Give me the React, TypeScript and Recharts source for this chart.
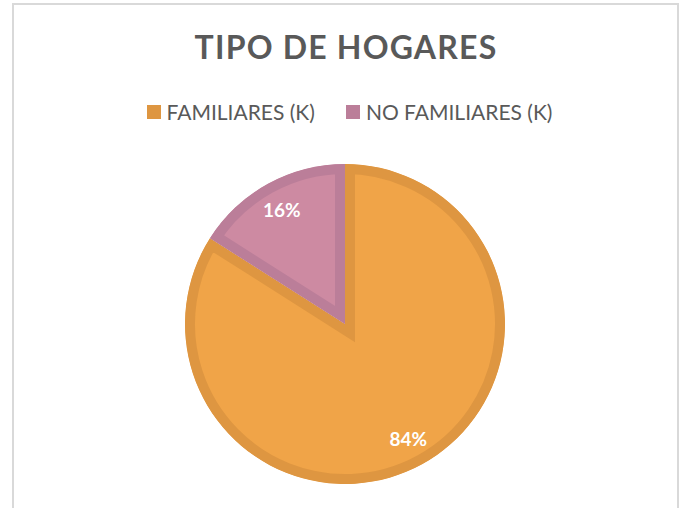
import React from 'react';
import { PieChart, Pie, Cell, Legend, Sector } from 'recharts';

const categories = ['FAMILIARES (K)', 'NO FAMILIARES (K)'];
const values = [84, 16];
const fillColors = ['#F0A448', '#CD8AA2'];
const borderColors = ['#DE9641', '#BB7E99'];
const title = 'TIPO DE HOGARES';

const data = categories.map((name, i) => ({ name, value: values[i] }));

const RADIAN = Math.PI / 180;

const renderLabel = (props: any) => {
  const { cx, cy, midAngle, outerRadius, percent } = props;
  const r = outerRadius * 0.82;
  const x = cx + r * Math.cos(-midAngle * RADIAN);
  const y = cy + r * Math.sin(-midAngle * RADIAN);
  return (
    <text x={x} y={y} fill="#FFFFFF" textAnchor="middle" dominantBaseline="central"
      fontFamily="Lato" fontWeight={700} fontSize={19}>
      {`${Math.round(percent * 100)}%`}
    </text>
  );
};

const renderShape = (props: any) => {
  const idx = categories.indexOf(props.name ?? props.payload?.name);
  const id = `clip-sector-${idx}`;
  const { stroke, strokeWidth, ...rest } = props;
  return (
    <g>
      <defs>
        <clipPath id={id}>
          <Sector {...rest} />
        </clipPath>
      </defs>
      <Sector {...rest} fill={fillColors[idx]} stroke={borderColors[idx]} strokeWidth={20}
        clipPath={`url(#${id})`} />
    </g>
  );
};

const renderLegend = () => (
  <div style={{ height: 0, overflow: 'visible' }}>
    <div style={{ display: 'flex', justifyContent: 'center', alignItems: 'center', gap: 31,
      fontFamily: 'Lato', fontSize: 21, color: '#595959', paddingLeft: 15, lineHeight: '26px' }}>
      {categories.map((c, i) => (
        <div key={c} style={{ display: 'flex', alignItems: 'center' }}>
          <span style={{ display: 'inline-block', width: 14, height: 14, background: borderColors[i], marginRight: 6 }} />
          <span>{c}</span>
        </div>
      ))}
    </div>
  </div>
);

export default function App() {
  return (
    <div style={{ position: 'absolute', left: 0, top: 0, width: 684, height: 508, background: '#FFFFFF', overflow: 'hidden' }}>
      <div style={{ position: 'absolute', left: 12, top: 3, width: 667, height: 520, border: '2px solid #D9D9D9', boxSizing: 'border-box' }} />
      <div style={{ position: 'absolute', left: 0, top: 27, width: 684, textAlign: 'center', paddingLeft: 8, boxSizing: 'border-box',
        fontFamily: 'Lato', fontWeight: 700, fontSize: 32, color: '#595959', letterSpacing: 1.2 }}>
        {title}
      </div>
      <div style={{ position: 'absolute', left: 0, top: 0 }}>
        <PieChart width={684} height={508} margin={{ top: 0, right: 0, bottom: 0, left: 0 }}>
          <Legend content={renderLegend} verticalAlign="top" wrapperStyle={{ top: 99, left: 0, width: 684, height: 0 }} />
          <Pie data={data} dataKey="value" nameKey="name" cx={345} cy={324} outerRadius={160}
            startAngle={90} endAngle={-270} isAnimationActive={false} label={renderLabel} labelLine={false}
            shape={renderShape}>
            {data.map((d, i) => (
              <Cell key={d.name} fill={fillColors[i]} stroke={borderColors[i]} strokeWidth={10} />
            ))}
          </Pie>
        </PieChart>
      </div>
    </div>
  );
}
